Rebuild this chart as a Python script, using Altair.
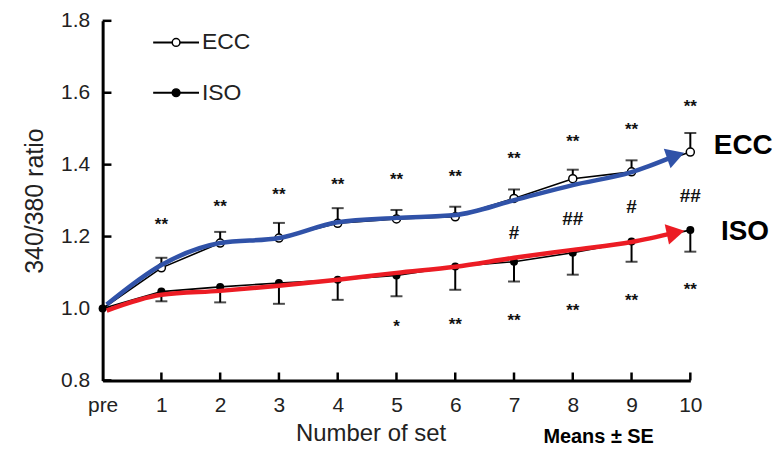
import altair as alt
import pandas as pd

# ---------------- data ----------------
sets = [0, 1, 2, 3, 4, 5, 6, 7, 8, 9, 10]
x_labels = ["pre", "1", "2", "3", "4", "5", "6", "7", "8", "9", "10"]
y_ticks = [0.8, 1.0, 1.2, 1.4, 1.6, 1.8]

ecc_mean = [1.0, 1.113, 1.182, 1.196, 1.237, 1.249, 1.255, 1.306, 1.361, 1.380, 1.435]
ecc_se = [0.0, 0.028, 0.031, 0.042, 0.042, 0.025, 0.028, 0.025, 0.025, 0.032, 0.053]
iso_mean = [1.0, 1.047, 1.060, 1.071, 1.080, 1.092, 1.117, 1.130, 1.155, 1.186, 1.218]
iso_se = [0.0, 0.027, 0.043, 0.058, 0.056, 0.058, 0.065, 0.055, 0.061, 0.056, 0.060]

ecc_sig_sets = [1, 2, 3, 4, 5, 6, 7, 8, 9, 10]
ecc_sig_text = ["**"] * 10
ecc_sig_y = [1.246, 1.296, 1.329, 1.357, 1.371, 1.380, 1.429, 1.477, 1.509, 1.574]

iso_sig_sets = [5, 6, 7, 8, 9, 10]
iso_sig_text = ["*", "**", "**", "**", "**", "**"]
iso_sig_y = [0.961, 0.969, 0.978, 1.006, 1.034, 1.066]

hash_sets = [7, 8, 9, 10]
hash_text = ["#", "##", "#", "##"]
hash_y = [1.214, 1.251, 1.285, 1.315]

# overlaid trend arrows
blue_x = [0.07, 1, 2, 3, 4, 5, 6, 7, 8, 9, 9.75]
blue_y = [1.011, 1.121, 1.182, 1.196, 1.240, 1.252, 1.260, 1.301, 1.343, 1.379, 1.425]
red_x = [0.07, 1, 2, 3, 4, 5, 6, 7, 8, 9, 9.75]
red_y = [0.994, 1.038, 1.049, 1.063, 1.080, 1.099, 1.116, 1.141, 1.163, 1.185, 1.211]

legend_names = ["ECC", "ISO"]
legend_y = [1.74, 1.60]

BLUE = "#3052A8"
RED = "#EC1C24"
FONT = "Liberation Sans"

# ---------------- tables ----------------
ecc = pd.DataFrame({"x": sets, "y": ecc_mean, "lo": ecc_mean,
                    "hi": [m + s for m, s in zip(ecc_mean, ecc_se)], "se": ecc_se})
iso = pd.DataFrame({"x": sets, "y": iso_mean,
                    "lo": [m - s for m, s in zip(iso_mean, iso_se)], "hi": iso_mean, "se": iso_se})
ecc_err = ecc[ecc.se > 0]
iso_err = iso[iso.se > 0]
ecc_cap = ecc_err.assign(y=ecc_err.hi)
iso_cap = iso_err.assign(y=iso_err.lo)

sig = pd.DataFrame({
    "x": ecc_sig_sets + iso_sig_sets,
    "y": ecc_sig_y + iso_sig_y,
    "t": ecc_sig_text + iso_sig_text,
})
hashes = pd.DataFrame({"x": hash_sets, "y": hash_y, "t": hash_text})
blue = pd.DataFrame({"x": blue_x, "y": blue_y, "o": range(len(blue_x))})
red = pd.DataFrame({"x": red_x, "y": red_y, "o": range(len(red_x))})
heads = pd.DataFrame({"x": [blue_x[-1], red_x[-1]], "y": [blue_y[-1], red_y[-1]],
                      "c": [BLUE, RED], "a": [341, 348]})

ytick_df = pd.DataFrame({"x": [0.0] * len(y_ticks), "x2": [0.15] * len(y_ticks), "y": y_ticks})
xtick_df = pd.DataFrame({"x": sets[1:], "y": [0.8] * 10, "y2": [0.822] * 10})

leg = pd.DataFrame({"name": legend_names, "y": legend_y,
                    "x": [0.86, 0.86], "x2": [1.64, 1.64], "xc": [1.25, 1.25],
                    "xt": [1.69, 1.69], "fill": ["white", "black"]})

side = pd.DataFrame({"t": ["ECC", "ISO"], "x": [10.40, 10.52], "y": [1.451, 1.213]})
note = pd.DataFrame({"t": ["Means ± SE"], "x": [8.44], "y": [0.642]})

# ---------------- scales / axes ----------------
xs = alt.Scale(domain=[0, 10], nice=False, zero=False)
ys = alt.Scale(domain=[0.8, 1.8], nice=False, zero=False)

x_axis = alt.Axis(values=sets, labelExpr="datum.value == 0 ? 'pre' : datum.value",
                  ticks=False, grid=False, domainColor="black", domainWidth=3,
                  labelFontSize=21, labelColor="#222", labelFont=FONT, labelPadding=14,
                  labelFlush=False, labelOverlap=False,
                  title="Number of set", titleFont=FONT, titleFontSize=24,
                  titleFontWeight="normal", titleColor="#222", titlePadding=6, titleX=269)
y_axis = alt.Axis(values=y_ticks, format=".1f", ticks=False, grid=False,
                  domainColor="black", domainWidth=3,
                  labelFontSize=21, labelColor="#222", labelFont=FONT, labelPadding=13,
                  title="340/380 ratio", titleFont=FONT, titleFontSize=25,
                  titleFontWeight="normal", titleColor="#222", titlePadding=13)


def X(f="x"):
    return alt.X(f"{f}:Q", scale=xs, axis=x_axis, title="Number of set")


def Y(f="y"):
    return alt.Y(f"{f}:Q", scale=ys, axis=y_axis, title="340/380 ratio")


ecc_line = alt.Chart(ecc).mark_line(color="black", strokeWidth=1.6).encode(x=X(), y=Y())
iso_line = alt.Chart(iso).mark_line(color="black", strokeWidth=1.6).encode(x=X(), y=Y())

ytk = alt.Chart(ytick_df).mark_rule(color="black", strokeWidth=2.5).encode(
    x=X(), x2="x2:Q", y=Y())
xtk = alt.Chart(xtick_df).mark_rule(color="black", strokeWidth=2.5).encode(
    x=X(), y=Y(), y2="y2:Q")


def err(df):
    return alt.Chart(df).mark_rule(color="black", strokeWidth=2).encode(
        x=X(), y=Y("lo"), y2="hi:Q")


def cap(df):
    return alt.Chart(df).mark_tick(color="black", thickness=2, size=12, orient="horizontal").encode(
        x=X(), y=Y())


ecc_pts = alt.Chart(ecc[ecc.x > 0]).mark_point(shape="circle", filled=True, fill="white",
                                               stroke="black", strokeWidth=1.5, size=65,
                                               opacity=1).encode(x=X(), y=Y())
iso_pts = alt.Chart(iso).mark_point(shape="circle", filled=True, color="black",
                                    size=65, opacity=1).encode(x=X(), y=Y())

blue_line = alt.Chart(blue).mark_line(color=BLUE, strokeWidth=4.5, interpolate="monotone").encode(
    x=X(), y=Y(), order="o:O")
red_line = alt.Chart(red).mark_line(color=RED, strokeWidth=4.5, interpolate="monotone").encode(
    x=X(), y=Y(), order="o:O")
head_marks = alt.Chart(heads).mark_point(shape="triangle-right", filled=True, size=430,
                                         opacity=1).encode(
    x=X(), y=Y(), color=alt.Color("c:N", scale=None), angle=alt.Angle("a:Q", scale=None))

sig_txt = alt.Chart(sig).mark_text(font=FONT, fontSize=17, fontWeight="bold", color="#111",
                                   baseline="alphabetic", dy=10).encode(x=X(), y=Y(), text="t:N")
hash_txt = alt.Chart(hashes).mark_text(font=FONT, fontSize=19, fontWeight="bold", color="#111",
                                       baseline="alphabetic", dy=7).encode(x=X(), y=Y(), text="t:N")

leg_rule = alt.Chart(leg).mark_rule(color="black", strokeWidth=2).encode(
    x=X(), x2="x2:Q", y=Y())
leg_pt = alt.Chart(leg).mark_point(shape="circle", filled=True, stroke="black", strokeWidth=1.5,
                                   size=60, opacity=1).encode(
    x=X("xc"), y=Y(), fill=alt.Fill("fill:N", scale=None))
leg_txt = alt.Chart(leg).mark_text(font=FONT, fontSize=23, color="#222", align="left",
                                   baseline="middle").encode(
    x=X("xt"), y=Y(), text="name:N")

side_txt = alt.Chart(side).mark_text(font=FONT, fontSize=28, fontWeight="bold", color="black",
                                     align="left", baseline="middle").encode(x=X(), y=Y(), text="t:N")
note_txt = alt.Chart(note).mark_text(font=FONT, fontSize=20, fontWeight="bold", color="black",
                                     align="center", baseline="middle").encode(x=X(), y=Y(), text="t:N")

chart = alt.layer(
    ecc_line, iso_line, ytk, xtk,
    err(ecc_err), cap(ecc_cap), err(iso_err), cap(iso_cap),
    ecc_pts, iso_pts,
    blue_line, red_line, head_marks,
    sig_txt, hash_txt,
    leg_rule, leg_pt, leg_txt,
    side_txt, note_txt,
).properties(
    width=590, height=361,
    autosize=alt.AutoSizeParams(type="none"),
    padding={"left": 95, "top": 12, "right": 82, "bottom": 69},
    background="white",
).configure_view(stroke=None)

chart.save("out.html", embed_options={"renderer": "svg", "actions": False})
